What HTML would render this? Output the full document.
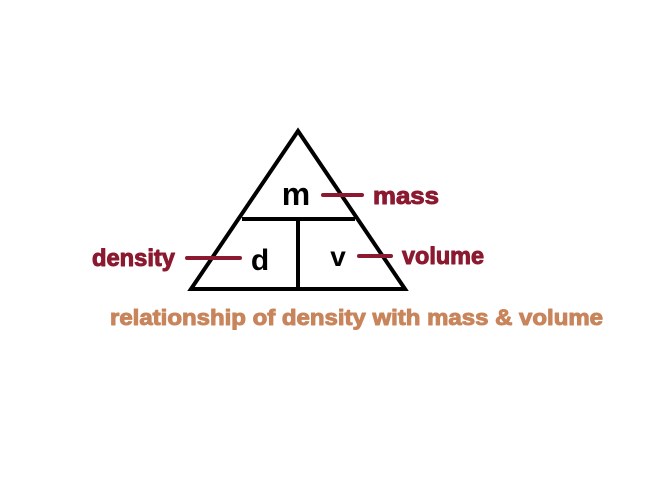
<!DOCTYPE html>
<html><head><style>
html,body{margin:0;padding:0;background:#fff;}
</style></head><body>
<svg width="664" height="495" viewBox="0 0 664 495" xmlns="http://www.w3.org/2000/svg">
<rect width="664" height="495" fill="#fff"/>
<g stroke="#000" stroke-width="4" fill="none" stroke-linejoin="miter">
<polygon points="298,131 191,289 405,289"/>
<line x1="242" y1="219" x2="355" y2="219"/>
<line x1="298" y1="219" x2="298" y2="289"/>
</g>
<g stroke="#8b1a30" stroke-width="4" stroke-linecap="round">
<line x1="323" y1="195" x2="362" y2="195"/>
<line x1="187" y1="258" x2="240" y2="258"/>
<line x1="359" y1="256" x2="391" y2="256"/>
</g>
<g font-family="Liberation Sans, sans-serif" font-weight="bold">
<text x="296" y="205" font-size="32" text-anchor="middle" fill="#000">m</text>
<text x="260" y="270" font-size="30" text-anchor="middle" fill="#000">d</text>
<text x="338" y="266" font-size="28" text-anchor="middle" fill="#000">v</text>
<g stroke-width="1" stroke-linejoin="round">
<text x="373" y="204" font-size="24" fill="#8b1a30" stroke="#8b1a30" textLength="66" lengthAdjust="spacingAndGlyphs">mass</text>
<text x="92" y="266" font-size="24" fill="#8b1a30" stroke="#8b1a30" textLength="83" lengthAdjust="spacingAndGlyphs">density</text>
<text x="402" y="264" font-size="24" fill="#8b1a30" stroke="#8b1a30" textLength="82" lengthAdjust="spacingAndGlyphs">volume</text>
<text x="110" y="325" font-size="22" fill="#c8845a" stroke="#c8845a" textLength="493" lengthAdjust="spacingAndGlyphs">relationship of density with mass &amp; volume</text>
</g>
</g>
</svg>
</body></html>
